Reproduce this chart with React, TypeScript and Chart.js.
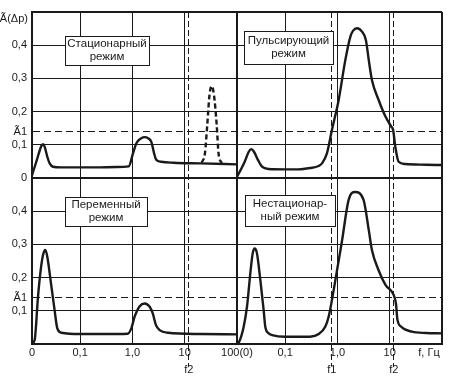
import React, { useEffect, useRef } from "react";
import { Chart, registerables } from "chart.js";

Chart.register(...registerables);

const FONT = "'Liberation Sans', Arial, sans-serif";
const INK = "#1a1a1a";

// ---- frequency axis (Hz): 0..0.1 is a short linear stretch, then decades ----
const ZERO_STRETCH = 0.92;
const toAxis = (f: number) =>
  f <= 0.1 ? (ZERO_STRETCH * f) / 0.1 : ZERO_STRETCH + Math.log10(f / 0.1);
const F_MAX = 100;

const f1 = 0.78;
const f2 = 12;

const leftTicksHz = [0, 0.1, 1, 10, f2, 100];
const leftTickLabels: (string | string[])[] = ["0", "0,1", "1,0", "10", ["", "f2"], "100(0)"];
const rightTicksHz = [0, 0.1, f1, 1, 10, f2, 100];
const rightTickLabels: (string | string[])[] = ["", "0,1", ["", "f1"], "1,0", "10", ["", "f2"], ""];
const dashedHz = [f1, f2];

// ---- amplitude axis ----
const A1 = 0.14;
const AMP_MAX = 0.5;
const ampTicks = [0, 0.1, A1, 0.2, 0.3, 0.4, AMP_MAX];
const topAmpLabels = ["0", "0,1", "Ã1", "0,2", "0,3", "0,4", ""];
const bottomAmpLabels = ["", "0,1", "Ã1", "0,2", "0,3", "0,4", ""];

// ---- series: Стационарный режим (top-left) ----
const stationaryFreq = [0, 0.01, 0.0193, 0.0229, 0.0264, 0.0318, 0.0367, 0.0436, 0.06, 0.2, 0.5, 0.85, 1.026, 1.186, 1.48, 1.72, 1.99, 2.3, 2.6, 2.83, 3.55, 6.2, 20, 100];
const stationaryAmp = [0.008, 0.054, 0.096, 0.102, 0.094, 0.064, 0.044, 0.034, 0.032, 0.032, 0.033, 0.035, 0.074, 0.104, 0.12, 0.123, 0.12, 0.109, 0.074, 0.056, 0.049, 0.046, 0.044, 0.041];
const stationaryDashFreq = [21.1, 24.4, 27.0, 29.8, 32.8, 36.3, 40.9, 44.3, 50.9];
const stationaryDashAmp = [0.046, 0.075, 0.16, 0.25, 0.277, 0.25, 0.16, 0.075, 0.045];

// ---- Пульсирующий режим (top-right) ----
const pulseFreq = [0, 0.002, 0.016, 0.0244, 0.0297, 0.0353, 0.0437, 0.052, 0.066, 0.1, 0.18, 0.3, 0.436, 0.507, 0.63, 0.787, 1.057, 1.416, 1.77, 2.0, 2.37, 2.95, 3.5, 3.98, 4.57, 6.14, 8.3, 10.7, 11.6, 12.8, 14.8, 19.8, 50, 100];
const pulseAmp = [0.004, 0.009, 0.049, 0.079, 0.087, 0.079, 0.054, 0.034, 0.027, 0.026, 0.026, 0.03, 0.036, 0.044, 0.074, 0.145, 0.235, 0.355, 0.426, 0.444, 0.451, 0.441, 0.416, 0.355, 0.295, 0.235, 0.185, 0.155, 0.145, 0.094, 0.049, 0.042, 0.04, 0.039];

// ---- Переменный режим (bottom-left) ----
const variableFreq = [0, 0.0055, 0.0125, 0.0181, 0.0229, 0.0277, 0.0318, 0.04, 0.0467, 0.0526, 0.061, 0.1, 0.3, 0.81, 0.953, 1.1, 1.38, 1.72, 2.14, 2.45, 2.82, 3.31, 4.8, 20, 100];
const variableAmp = [0.002, 0.012, 0.143, 0.223, 0.268, 0.283, 0.263, 0.177, 0.105, 0.047, 0.034, 0.03, 0.03, 0.031, 0.047, 0.082, 0.114, 0.122, 0.112, 0.092, 0.057, 0.042, 0.034, 0.03, 0.029];

// ---- Нестационарный режим (bottom-right) ----
const unsteadyFreq = [0, 0.004, 0.0139, 0.0208, 0.0277, 0.0326, 0.0368, 0.0415, 0.0485, 0.0554, 0.0588, 0.066, 0.073, 0.1, 0.3, 0.44, 0.585, 0.68, 0.85, 1.23, 1.64, 2.19, 3.16, 3.98, 4.57, 6.1, 8.3, 11.9, 13.2, 14.0, 16.6, 26.7, 50, 100];
const unsteadyAmp = [0, 0.005, 0.052, 0.113, 0.213, 0.273, 0.288, 0.273, 0.193, 0.102, 0.052, 0.032, 0.027, 0.022, 0.022, 0.03, 0.052, 0.082, 0.163, 0.313, 0.434, 0.458, 0.434, 0.343, 0.283, 0.223, 0.178, 0.148, 0.12, 0.075, 0.052, 0.037, 0.033, 0.032];

// ---- panel captions ----
const modeNames = [
  ["Стационарный", "режим"],
  ["Пульсирующий", "режим"],
  ["Переменный", "режим"],
  ["Нестационар-", "ный режим"],
];
// caption anchors (axis ids, centre in data units, box size in px)
const captionLayout = [
  { x: "xLeft", y: "yTop", f: 0.327, a: 0.384, w: 84, h: 29 },
  { x: "xRight", y: "yTop", f: 0.116, a: 0.393, w: 89, h: 33 },
  { x: "xLeft", y: "yBot", f: 0.313, a: 0.399, w: 82, h: 29 },
  { x: "xRight", y: "yBot", f: 0.124, a: 0.402, w: 90, h: 31 },
];

function xAxis(ticksHz: number[], labels: (string | string[])[]) {
  const isDashed = (i: number) => i !== undefined && dashedHz.includes(ticksHz[i]);
  return {
    type: "linear",
    position: "bottom",
    stack: "freq",
    stackWeight: 1,
    min: 0,
    max: toAxis(F_MAX),
    afterBuildTicks: (s: any) => {
      s.ticks = ticksHz.map((v) => ({ value: toAxis(v) }));
    },
    afterFit: (s: any) => {
      s.height = 38;
    },
    ticks: {
      autoSkip: false,
      maxRotation: 0,
      minRotation: 0,
      padding: -21,
      color: INK,
      font: { family: FONT, size: 11, lineHeight: 1.5 },
      callback: (_v: any, i: number) => labels[i],
    },
    grid: {
      color: INK,
      lineWidth: (c: any) => (c.index === 0 || c.index === ticksHz.length - 1 ? 2 : 1),
      drawTicks: true,
      tickLength: 22,
      tickWidth: 1,
      tickColor: (c: any) => (isDashed(c.index) ? INK : "rgba(0,0,0,0)"),
      tickBorderDash: [6, 3],
    },
    border: {
      display: true,
      color: INK,
      width: 2,
      dash: (c: any) => (isDashed(c.index) ? [6, 3] : []),
    },
  };
}

function yAxis(labels: string[]) {
  return {
    type: "linear",
    position: "left",
    stack: "amp",
    stackWeight: 1,
    min: 0,
    max: AMP_MAX,
    afterBuildTicks: (s: any) => {
      s.ticks = ampTicks.map((v) => ({ value: v }));
    },
    afterFit: (s: any) => {
      s.width = 32;
    },
    ticks: {
      autoSkip: false,
      padding: 5,
      color: INK,
      font: { family: FONT, size: 11 },
      callback: (_v: any, i: number) => labels[i],
    },
    grid: {
      color: INK,
      lineWidth: (c: any) => (c.index === 0 || c.index === ampTicks.length - 1 ? 2 : 1),
      drawTicks: false,
    },
    border: {
      display: true,
      color: INK,
      width: 2,
      dash: (c: any) => (c.index !== undefined && ampTicks[c.index] === A1 ? [7, 4] : []),
    },
  };
}

function curve(label: string, freq: number[], amp: number[], xAxisID: string, yAxisID: string, dash: number[] = []) {
  return {
    label,
    data: freq.map((f, i) => ({ x: toAxis(f), y: amp[i] })),
    xAxisID,
    yAxisID,
    borderColor: INK,
    borderWidth: 2.4,
    borderDash: dash,
    pointRadius: 0,
    fill: false,
    cubicInterpolationMode: "monotone",
  };
}

const notesPlugin = {
  id: "notes",
  afterDraw(chart: any) {
    const { ctx } = chart;
    const s = chart.scales;
    ctx.save();
    ctx.font = `11.5px ${FONT}`;
    ctx.textAlign = "center";
    ctx.textBaseline = "middle";
    captionLayout.forEach((b, i) => {
      const cx = s[b.x].getPixelForValue(toAxis(b.f));
      const cy = s[b.y].getPixelForValue(b.a);
      const left = Math.round(cx - b.w / 2) + 0.5;
      const top = Math.round(cy - b.h / 2) + 0.5;
      ctx.fillStyle = "#fff";
      ctx.fillRect(left, top, b.w, b.h);
      ctx.strokeStyle = INK;
      ctx.lineWidth = 1;
      ctx.strokeRect(left, top, b.w, b.h);
      ctx.fillStyle = INK;
      const lines = modeNames[i];
      lines.forEach((t, k) => ctx.fillText(t, cx, cy + (k - (lines.length - 1) / 2) * 13));
    });
    ctx.font = `11px ${FONT}`;
    ctx.textAlign = "right";
    ctx.fillText("Ã(Δp)", s.yTop.right - 4, s.yTop.top + 7);
    ctx.textAlign = "center";
    ctx.fillText("f, Гц", s.xRight.right - 13, s.xRight.top + 9);
    ctx.restore();
  },
};

export default function App() {
  const ref = useRef<HTMLCanvasElement>(null);
  useEffect(() => {
    if (!ref.current) return;
    Chart.defaults.font.family = FONT;
    const chart = new Chart(ref.current, {
      type: "line",
      data: {
        datasets: [
          curve("Стационарный режим", stationaryFreq, stationaryAmp, "xLeft", "yTop"),
          curve("Стационарный режим (пик)", stationaryDashFreq, stationaryDashAmp, "xLeft", "yTop", [5, 3]),
          curve("Пульсирующий режим", pulseFreq, pulseAmp, "xRight", "yTop"),
          curve("Переменный режим", variableFreq, variableAmp, "xLeft", "yBot"),
          curve("Нестационарный режим", unsteadyFreq, unsteadyAmp, "xRight", "yBot"),
        ] as any,
      },
      options: {
        responsive: false,
        animation: false,
        layout: { padding: { top: 12, right: 13, left: 0, bottom: 0 } },
        plugins: { legend: { display: false }, tooltip: { enabled: false } },
        scales: {
          xLeft: xAxis(leftTicksHz, leftTickLabels),
          xRight: xAxis(rightTicksHz, rightTickLabels),
          yBot: yAxis(bottomAmpLabels),
          yTop: yAxis(topAmpLabels),
        } as any,
      },
      plugins: [notesPlugin],
    });
    return () => chart.destroy();
  }, []);
  return (
    <div style={{ position: "absolute", left: 0, top: 0, width: 455, height: 382, background: "#fff" }}>
      <canvas ref={ref} width={455} height={382} style={{ display: "block" }} />
    </div>
  );
}
